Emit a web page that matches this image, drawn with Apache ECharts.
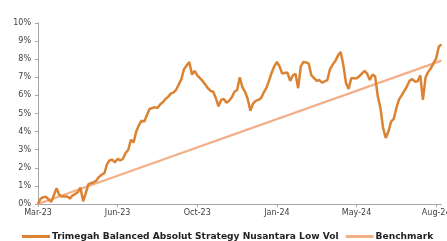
<!DOCTYPE html>
<html>
<head>
<meta charset="utf-8">
<script src="https://cdn.jsdelivr.net/npm/echarts@6/dist/echarts.min.js"></script>
<style>
  html, body { margin: 0; padding: 0; background: #fff; }
  #chart { width: 447px; height: 241px; }
</style>
</head>
<body>
<div id="chart"></div>
<script>
// tick labels, one every 30 points on the category axis
const tickLabels = ["Mar-23", "Jun-23", "Oct-23", "Jan-24", "May-24", "Aug-24"];
const tickEvery = 30;

// fund cumulative return (%)
const fund = [
  0.0, 0.3, 0.38, 0.4, 0.25, 0.12, 0.5, 0.87, 0.5, 0.42,
  0.42, 0.42, 0.3, 0.47, 0.55, 0.65, 0.9, 0.15, 0.6, 1.1,
  1.15, 1.2, 1.3, 1.5, 1.62, 1.7, 2.2, 2.42, 2.45, 2.3,
  2.5, 2.4, 2.5, 2.82, 3.0, 3.55, 3.4, 4.0, 4.35, 4.6,
  4.55, 4.9, 5.25, 5.3, 5.35, 5.3, 5.5, 5.62, 5.8, 5.92,
  6.1, 6.15, 6.3, 6.6, 6.9, 7.45, 7.65, 7.85, 7.15, 7.35,
  7.1, 6.95, 6.8, 6.6, 6.4, 6.25, 6.2, 5.85, 5.4, 5.75,
  5.8, 5.6, 5.7, 5.9, 6.2, 6.3, 7.0, 6.45, 6.2, 5.8,
  5.15, 5.55, 5.7, 5.75, 5.85, 6.15, 6.4, 6.8, 7.25, 7.6,
  7.85, 7.6, 7.2, 7.25, 7.25, 6.8, 7.1, 7.2, 6.4, 7.6,
  7.85, 7.82, 7.75, 7.1, 6.95, 6.8, 6.85, 6.7, 6.78, 6.85,
  7.45, 7.7, 7.9, 8.2, 8.4, 7.7, 6.7, 6.35, 6.95, 6.95,
  6.95, 7.05, 7.2, 7.35, 7.2, 6.85, 7.15, 7.05, 5.95, 5.3,
  4.2, 3.65, 4.0, 4.55, 4.7, 5.3, 5.78, 6.0, 6.25, 6.5,
  6.82, 6.9, 6.76, 6.78, 7.1, 5.75, 7.0, 7.3, 7.5, 7.78,
  8.05, 8.7, 8.82
];

// benchmark: straight line, start and end
const benchStart = 0.0;
const benchEnd = 7.92;

const fundName = "Trimegah Balanced Absolut Strategy Nusantara Low Vol";
const benchName = "Benchmark";
const colors = { fund: "#db8333", bench: "#f3b088" };

const categories = fund.map((_, i) => i);
const showTick = (idx) => idx % tickEvery === 0;

let chart = echarts.init(document.getElementById("chart"), null, { renderer: "canvas" });

chart.setOption({
  animation: false,
  grid: { left: 38, right: 5.5, top: 23, bottom: 37, containLabel: false, outerBoundsMode: "none" },
  legend: {
    left: 22,
    top: 232,
    width: 440,
    padding: 0,
    itemGap: 7,
    itemWidth: 28,
    itemHeight: 3,
    icon: "rect",
    textStyle: { fontFamily: "DejaVu Sans", fontSize: 9.1, fontWeight: "bold", color: "#222", padding: [0, 0, 0, -3] },
    data: [fundName, benchName]
  },
  xAxis: {
    type: "category",
    data: categories,
    boundaryGap: false,
    axisLine: { lineStyle: { color: "#a6a6a6" } },
    axisTick: { interval: showTick, length: 3, lineStyle: { color: "#a6a6a6" } },
    axisLabel: {
      interval: showTick,
      margin: 5,
      fontFamily: "DejaVu Sans",
      fontSize: 8,
      color: "#404040",
      formatter: (v, idx) => tickLabels[idx / tickEvery] || ""
    }
  },
  yAxis: {
    type: "value",
    min: 0, max: 10, interval: 1,
    axisLine: { show: true, lineStyle: { color: "#a6a6a6" } },
    axisTick: { show: true, length: 3, lineStyle: { color: "#a6a6a6" } },
    splitLine: { show: false },
    axisLabel: {
      margin: 7,
      fontFamily: "DejaVu Sans",
      fontSize: 8,
      color: "#404040",
      formatter: "{value}%"
    }
  },
  series: [
    {
      name: fundName,
      type: "line",
      data: fund,
      showSymbol: false,
      z: 3,
      itemStyle: { color: colors.fund },
      lineStyle: { width: 2.5, color: colors.fund }
    },
    {
      name: benchName,
      type: "line",
      data: [[0, benchStart], [fund.length - 1, benchEnd]],
      showSymbol: false,
      z: 2,
      itemStyle: { color: colors.bench },
      lineStyle: { width: 2.2, color: colors.bench }
    }
  ]
});
</script>
</body>
</html>
